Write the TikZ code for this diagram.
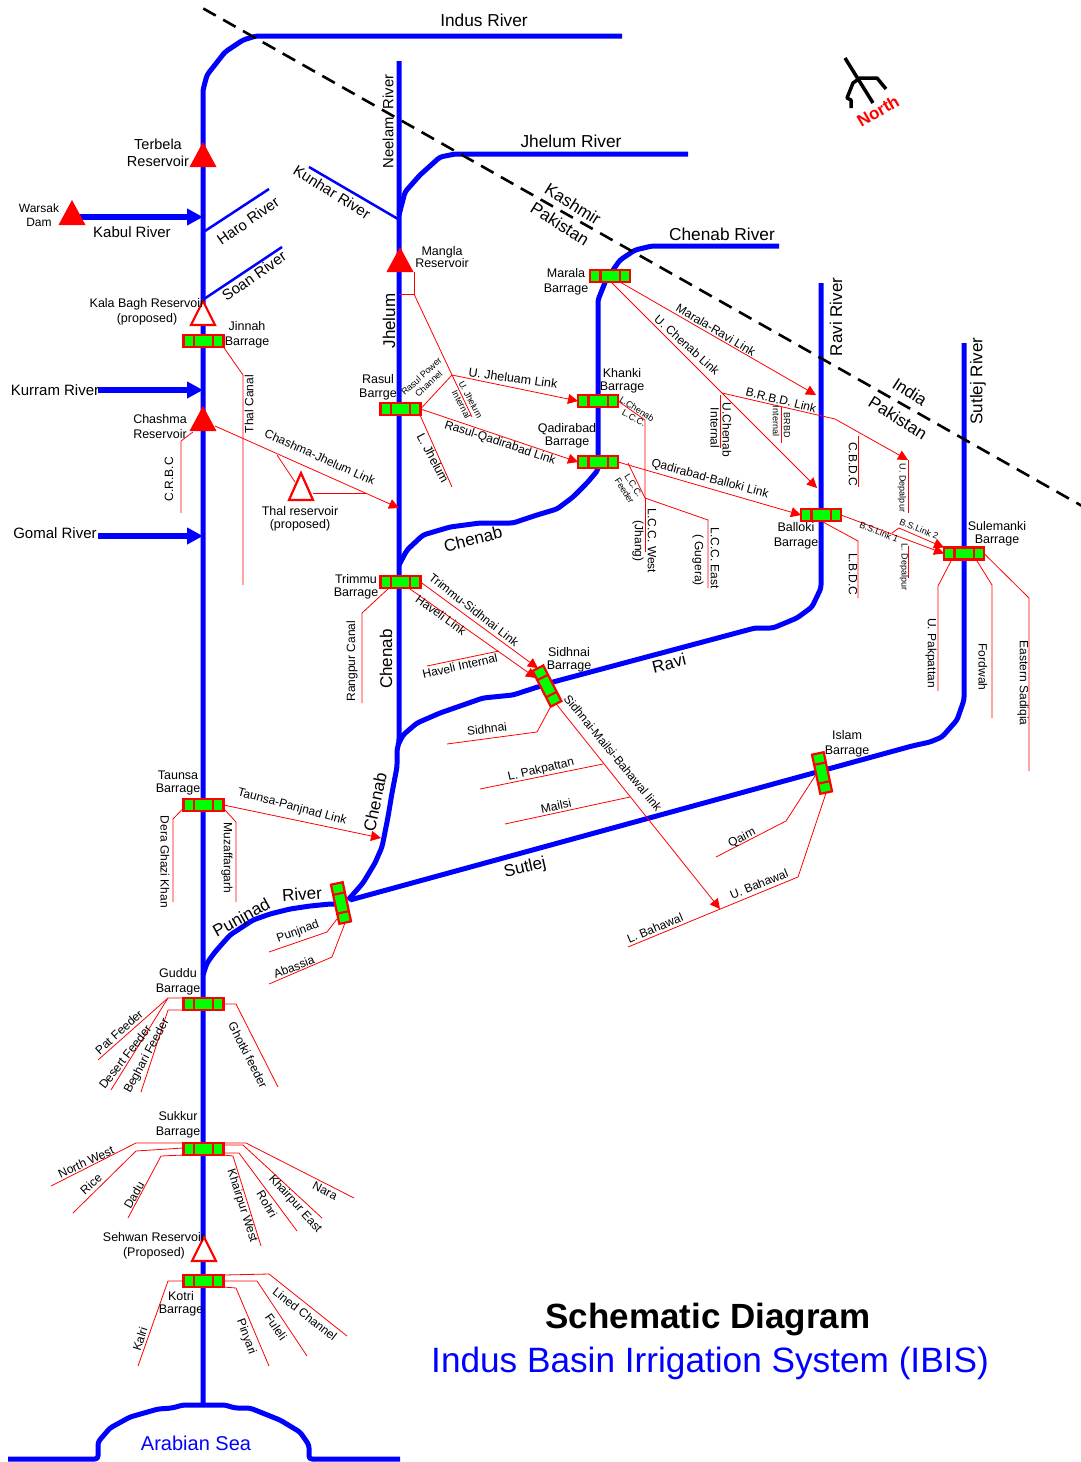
\documentclass[tikz,border=0pt]{standalone}
\usepackage{fontspec}
\setmainfont{Liberation Sans}
\usetikzlibrary{arrows.meta,calc}
\newcounter{lb}
\newcommand\T[5]{\stepcounter{lb}\node[lbl,rotate=#3,font=\fontsize{#4}{#4}\selectfont] (t\arabic{lb}) at (#1,#2) {#5};}
\newcommand\TT[5]{\stepcounter{lb}\node[lbl,yshift=-1pt,font=\fontsize{#3}{#4}\selectfont] (t\arabic{lb}) at (#1,#2) {#5};}
\newcommand\TR[6]{\stepcounter{lb}\node[lbl,rotate=#3,font=\fontsize{#4}{#5}\selectfont] (t\arabic{lb}) at (#1,#2) {#6};}
\newcommand\barrage[4]{%
  \node[barragebox,rotate=#4] (#1) at (#2,#3) {};
  \draw[barragediv] ($(#1.north west)!0.26!(#1.north east)$) -- ($(#1.south west)!0.26!(#1.south east)$);
  \draw[barragediv] ($(#1.north west)!0.74!(#1.north east)$) -- ($(#1.south west)!0.74!(#1.south east)$);}
\newcommand\resv[3]{\coordinate (#1) at (#2,#3);
  \fill[red] ($(#1)+(-13.5,0)$) -- ($(#1)+(0,-25)$) -- ($(#1)+(13.5,0)$) -- cycle;}
\newcommand\propresv[4]{\coordinate (#1) at (#2,#3);
  \draw[red,fill=white,line width=2.2pt] ($(#1)+(-12,0)$) -- ($(#1)+(0,-#4)$) -- ($(#1)+(12,0)$) -- cycle;}
\tikzset{
  lbl/.style={inner sep=0pt,outer sep=0pt,align=center,text=black},
  river/.style={draw=blue,line width=5pt,rounded corners=3pt,line join=round},
  thinriver/.style={draw=blue,line width=2.5pt},
  inflow/.style={draw=blue,line width=6pt,-{Triangle[length=16pt,width=16pt]}},
  link/.style={draw=red,line width=0.8pt},
  linkarrow/.style={link,-{Triangle[length=10pt,width=10pt]}},
  barragebox/.style={rectangle,draw=red,fill=green,line width=2.2pt,minimum width=40pt,minimum height=12pt,inner sep=0pt,outer sep=0pt},
  barragediv/.style={draw=red,line width=2.2pt},
  border/.style={draw=black,line width=2.6pt,dash pattern=on 14.3pt off 8.5pt},
}
\begin{document}
\begin{tikzpicture}[x=1pt,y=-1pt]
\useasboundingbox (0,0) rectangle (1081,1462);
% rivers
\draw[river] (622,36) -- (256,36) -- (243,40) -- (225,52) -- (207,75) -- (203,90) -- (203,1405);
\draw[river] (399,61) -- (399,742) -- (397,750) -- (397,767) -- (392,793) -- (388,817) -- (382,847) -- (375,863) -- (363,883) -- (348,900);
\draw[river] (688,154) -- (455,154) -- (440,157) -- (420,175) -- (405,192) -- (399,215);
\draw[river] (779,246) -- (652,246) -- (635,250) -- (620,260) -- (606,280) -- (598,300) -- (598,470) -- (587,483) -- (573,497) -- (557,509) -- (537,515) -- (513,523) -- (480,523) -- (450,527) -- (423,535) -- (407,550) -- (399,565);
\draw[river] (821,283) -- (821,588) -- (812,607) -- (797,618) -- (773,628) -- (755,628) -- (553,682) -- (513,695) -- (483,698) -- (440,713) -- (417,723) -- (403,735) -- (398,745);
\draw[river] (964,343) -- (964,700) -- (957,720) -- (942,737) -- (930,742) -- (912,746) -- (350,900);
\draw[river] (340,904) -- (330,904) -- (310,906) -- (290,909) -- (270,914) -- (253,920) -- (230,935) -- (215,952) -- (207,963) -- (203,975);
\draw[river] (8,1459) -- (98,1459) -- (98,1442) -- (110,1428) -- (130,1417) -- (158,1409) -- (172,1408) -- (183,1405) -- (225,1405) -- (235,1408) -- (250,1408) -- (280,1420) -- (300,1432) -- (309,1445) -- (309,1459) -- (400,1459);
\draw[thinriver] (309,167) -- (398,219);
\draw[thinriver] (205,231) -- (269,189);
\draw[thinriver] (204,299) -- (282,247);
\coordinate (kabulin) at (203,217);
\coordinate (kurramin) at (203,390);
\coordinate (gomalin) at (203,536);
\coordinate (kabulst) at (78,217);
\coordinate (kurramst) at (98,390);
\coordinate (gomalst) at (98,536);
\draw[inflow] (kabulst) -- (kabulin);
\draw[inflow] (kurramst) -- (kurramin);
\draw[inflow] (gomalst) -- (gomalin);
% border and north mark
\coordinate (bordA) at (203.3,8.5);
\coordinate (bordB) at (1090,510.5);
\begin{scope}
\clip (0,0) rectangle (1081,1462);
\draw[border] (bordA) -- (bordB);
\end{scope}
\draw[black,line width=3.5pt] (845,58) -- (873,103);
\draw[black,line width=3.5pt,line join=round] (851,108) -- (851,100) -- (847,98) -- (853,83) -- (860,78) -- (877,78) -- (886,89);
% barrages and reservoirs
\barrage{jinnah}{203.5}{341}{0}
\barrage{rasul}{400.5}{409}{0}
\barrage{marala}{610}{276}{0}
\barrage{khanki}{598}{401}{0}
\barrage{qadirabad}{598}{462}{0}
\barrage{balloki}{821}{515}{0}
\barrage{sulemanki}{964}{553.5}{0}
\barrage{trimmu}{400.5}{582}{0}
\barrage{sidhnai}{547}{686}{-63}
\barrage{islam}{822}{773}{-78}
\barrage{punjnad}{341}{903}{-78}
\barrage{taunsa}{203.5}{805}{0}
\barrage{guddu}{203.5}{1004}{0}
\barrage{sukkur}{203.5}{1149}{0}
\barrage{kotri}{203.5}{1281}{0}
\resv{terbela}{203}{167}
\resv{warsak}{72}{225}
\resv{chashma}{203}{431}
\resv{mangla}{400}{272}
\propresv{kalabagh}{203}{325}{24}
\propresv{thalres}{301}{500}{27}
\propresv{sehwan}{204}{1261}{24}
% named ends
\coordinate (manga) at (414,294);
\coordinate (jhj) at (452,375);
\coordinate (ucj) at (722,393);
\coordinate (chashout) at (215,426);
\coordinate (chashend) at (399,508);
\coordinate (thalA) at (277,455);
\coordinate (ravitipA) at (816,395);
\coordinate (ravitipB) at (817,488);
\coordinate (ubtip) at (720,909);
\coordinate (depal) at (908,460);
\coordinate (havtip) at (536,678);
\coordinate (bs2a) at (892,533);
\coordinate (bs2b) at (899,528);
\coordinate (tptip) at (381,838);
\coordinate (pj1) at (337,919);
\coordinate (lccj) at (645,498);
\coordinate (lccA) at (645,420);
% links and canals
\draw[link] (jinnah.south east) -- (243,375) -- (243,585);
\draw[link] (193,432) -- (181,441) -- (181,513);
\draw[linkarrow] (chashout) -- (chashend);
\draw[link] (thalA) -- (295,482);
\draw[link] (313,493) -- (367,493);
\draw[link] (414,272) -- (manga) -- (399,294);
\draw[link] (manga) -- (jhj) -- (472,417);
\draw[link] (jhj) -- (rasul.east);
\draw[linkarrow] (jhj) -- (khanki.west);
\draw[linkarrow] (rasul.east) -- (qadirabad.west);
\draw[link] (420,415) -- (452,487);
\draw[linkarrow] (marala.south) ++(10,0) -- (ravitipA);
\draw[linkarrow] (612,283) -- (ucj) -- (ravitipB);
\draw[linkarrow] (ucj) -- (835,419) -- (depal);
\draw[link] (depal) -- (908,513);
\draw[link] (720,395) -- (720,448);
\draw[link] (781,407) -- (781,443);
\draw[link] (858,436) -- (858,487);
\draw[linkarrow] (qadirabad.east) -- (balloki.west);
\draw[link] (khanki.east) -- (lccA) -- (lccj) -- (708,520) -- (708,588);
\draw[link] (lccj) -- (645,552);
\draw[link] (628,463) -- (lccj);
\draw[link] (823,522) -- (858,541) -- (858,598);
\draw[linkarrow] (balloki.east) -- (sulemanki.west);
\draw[link] (bs2a) -- (bs2b);
\draw[linkarrow] (bs2b) -- (sulemanki.north west);
\draw[link] (908,546) -- (908,578);
\draw[link] (951,561) -- (938,586) -- (938,691);
\draw[link] (977,561) -- (992,585) -- (992,718);
\draw[link] (sulemanki.east) -- (1029,598) -- (1029,771);
\draw[linkarrow] (trimmu.east) -- (sidhnai.west);
\draw[linkarrow] (410,589) -- (havtip);
\draw[link] (388,589) -- (362,613) -- (362,703);
\draw[link] (427,666) -- (499,651);
\draw[link] (sidhnai.south east) -- (537,732) -- (447,744);
\draw[linkarrow] (sidhnai.east) -- (ubtip);
\draw[link] (480,789) -- (603,764);
\draw[link] (505,824) -- (630,797);
\draw[link] (islam.south) -- (786,821) -- (716,857);
\draw[link] (islam.east) -- (798,877) -- (628,947);
\draw[linkarrow] (taunsa.east) -- (tptip);
\draw[link] (taunsa.west) ++(0,3) -- (173,819) -- (173,902);
\draw[link] (225,810) -- (236,822) -- (236,902);
\draw[link] (pj1) -- (327,932) -- (269,952);
\draw[link] (punjnad.east) -- (332,957) -- (269,984);
\draw[link] (guddu.north west) -- (168,998) -- (98,1060);
\draw[link] (168,998) -- (111,1090);
\draw[link] (guddu.south west) -- (168,1010) -- (141,1092);
\draw[link] (guddu.east) -- (236,1004) -- (278,1087);
\draw[link] (sukkur.north west) -- (136,1143) -- (51,1186);
\draw[link] (183,1148) -- (136,1151) -- (73,1213);
\draw[link] (sukkur.south west) -- (161,1156) -- (128,1218);
\draw[link] (sukkur.north east) -- (246,1143) -- (354,1198);
\draw[link] (224,1145) -- (243,1145) -- (322,1218);
\draw[link] (224,1153) -- (239,1153) -- (297,1231);
\draw[link] (sukkur.south east) -- (233,1156) -- (261,1246);
\draw[link] (kotri.west) -- (168,1281) -- (138,1366);
\draw[link] (kotri.north east) -- (269,1274) -- (347,1336);
\draw[link] (kotri.east) -- (257,1281) -- (307,1356);
\draw[link] (kotri.south east) -- (236,1288) -- (269,1366);
% labels: rivers and regions
\T{484}{20.5}{0}{17.3}{Indus River}
\T{571}{141}{0}{17.3}{Jhelum River}
\T{722}{234}{0}{17.3}{Chenab River}
\T{836}{317}{90}{17}{Ravi River}
\T{978}{381}{90}{17}{Sutlej River}
\T{388}{121.5}{90}{14.8}{Neelam\hspace{8pt}River}
\T{389}{321}{90}{17}{Jhelum}
\T{332}{192}{-32}{15}{Kunhar River}
\T{248}{221}{35}{15}{Haro River}
\T{254}{276}{35}{15}{Soan River}
\T{132}{232}{0}{15}{Kabul River}
\T{55}{390}{0}{15}{Kurram River}
\T{55}{533}{0}{15}{Gomal River}
\T{473}{539}{14}{17}{Chenab}
\T{386}{659}{90}{17}{Chenab}
\T{375}{802}{78}{17}{Chenab}
\T{669}{663}{14}{17}{Ravi}
\T{525}{868}{13}{17}{Sutlej}
\T{242}{919}{29}{17}{Punjnad}
\T{302}{894}{4}{17}{River}
\T{573}{204}{-32}{17}{Kashmir}
\T{560}{224}{-32}{17}{Pakistan}
\T{910}{392}{-33}{17}{India}
\T{898}{418}{-32}{17}{Pakistan}
\T{196}{1443}{0}{20}{\textcolor{blue}{Arabian Sea}}
\T{708}{1320}{0}{35}{\bfseries Schematic Diagram}
\T{710}{1363}{0}{35.2}{\textcolor{blue}{Indus Basin Irrigation System (IBIS)}}
\T{878}{111}{30}{17}{\bfseries\textcolor{red}{North}}
% labels: dams and barrages
\TT{158}{152}{14.5}{17.5}{Terbela\\Reservoir}
\TT{39}{214}{12}{14}{Warsak\\Dam}
\TT{147}{311}{12.5}{15}{Kala Bagh Reservoir\\(proposed)}
\TT{247}{334}{12.5}{15}{Jinnah\\Barrage}
\TT{160}{426}{12.5}{15}{Chashma\\Reservoir}
\TT{300}{518}{12.5}{13}{Thal reservoir\\(proposed)}
\TT{442}{256}{12.5}{12.5}{Mangla\\Reservoir}
\TT{378}{386}{12.5}{14}{Rasul\\Barrge}
\TT{566}{281}{12.5}{15}{Marala\\Barrage}
\TT{622}{380}{12.5}{13}{Khanki\\Barrage}
\TT{567}{435}{12.5}{13}{Qadirabad\\Barrage}
\TT{796}{535}{12.5}{15}{Balloki\\Barrage}
\TT{997}{533}{12.5}{12.5}{Sulemanki\\Barrage}
\TT{847}{743}{12.5}{15}{Islam\\Barrage}
\TT{356}{586}{12.5}{13}{Trimmu\\Barrage}
\TT{569}{659}{12.5}{13}{Sidhnai\\Barrage}
\TT{178}{782}{12.5}{13}{Taunsa\\Barrage}
\TT{178}{981}{12.5}{15}{Guddu\\Barrage}
\TT{178}{1124}{12.5}{15}{Sukkur\\Barrage}
\TT{154}{1245}{12.5}{15}{Sehwan Reservoir\\(Proposed)}
\TT{181}{1303}{12.5}{13}{Kotri\\Barrage}
% labels: links and canals
\T{169}{479}{90}{12}{C.R.B.C}
\T{249}{404}{90}{12}{Thal Canal}
\T{320}{457}{-24}{12}{Chashma-Jhelum Link}
\TR{425}{380}{43}{9}{10.5}{Rasul Power\\Channel}
\TR{466}{402}{-62}{9}{10.5}{U. Jhelum\\Internal}
\T{513}{378}{-8}{12.5}{U. Jheluam Link}
\T{433}{458}{-62}{12.5}{L. Jhelum}
\T{500}{443}{-18}{12}{Rasul-Qadirabad Link}
\T{637}{409}{-33}{9}{L.Chenab}
\T{634}{418}{-30}{9}{L.C.C.}
\TR{629}{488}{-58}{9}{10.5}{L.C.C.\\Feeder}
\T{652}{541}{-90}{12}{L.C.C. West}
\T{638}{541}{-90}{12}{(Jhang)}
\T{715}{558}{-90}{12}{L.C.C. East}
\T{698}{560}{-90}{12}{( Gugera)}
\T{710}{479}{-15}{12}{Qadirabad-Balloki Link}
\T{716}{330}{-31}{12}{Marala-Ravi Link}
\T{687}{345}{-42}{12}{U. Chenab Link}
\T{727}{430}{-90}{12}{U.Chenab}
\T{715}{428}{-90}{12}{Internal}
\T{781}{400}{-14}{12}{B.R.B.D. Link}
\T{787}{425}{-90}{9}{BRBD}
\T{776}{421}{-90}{9}{Internal}
\T{853}{464}{-90}{12}{C.B.D.C}
\T{902}{488}{-90}{9}{U. Depalpur}
\T{853}{574}{-90}{12}{L.B.D.C}
\T{904}{567}{-90}{9}{L. Depalpur}
\T{879}{532}{-22}{9}{B.S.Link 1}
\T{919}{529}{-22}{9}{B.S.Link 2}
\T{931}{653}{-90}{12}{U. Pakpattan}
\T{983}{667}{-90}{12}{Fordwah}
\T{1023}{683}{-90}{12}{Eastern Sadiqia}
\T{352}{661}{90}{12}{Rangpur Canal}
\T{474}{610}{-38}{12}{Trimmu-Sidhnai Link}
\T{441}{615}{-36}{12}{Haveli Link}
\T{460}{666}{13}{12}{Haveli Internal}
\T{487}{729}{7}{12}{Sidhnai}
\T{613}{753}{-50.5}{12}{Sidhnai-Mailsi-Bahawal link}
\T{541}{770}{13}{12}{L. Pakpattan}
\T{556}{806}{12}{12}{Mailsi}
\T{742}{838}{27}{12}{Qaim}
\T{759}{884}{22}{12}{U. Bahawal}
\T{655}{928}{23}{12}{L. Bahawal}
\T{165}{862}{-90}{12}{Dera Ghazi Khan}
\T{227}{858}{-90}{12}{Muzaffargarh}
\T{292}{807}{-15}{12}{Taunsa-Panjnad Link}
\T{298}{932}{20}{12}{Punjnad}
\T{294}{967}{21}{12}{Abassia}
\T{119}{1032}{42}{12}{Pat Feeder}
\T{125}{1057}{52}{12}{Desert Feeder}
\T{147}{1056}{62}{12}{Beghari Feeder}
\T{248}{1055}{-63}{12}{Ghotki feeder}
\T{86}{1162}{25}{12}{North West}
\T{91}{1184}{42}{12}{Rice}
\T{134}{1195}{60}{12}{Dadu}
\T{242}{1206}{-72}{12}{Khairpur West}
\T{267}{1204}{-60}{12}{Rohri}
\T{295}{1204}{-48}{12}{Khairpur East}
\T{325}{1191}{-27}{12}{Nara}
\T{140}{1339}{72}{12}{Kalri}
\T{246}{1337}{-70}{12}{Pinyari}
\T{276}{1327}{-55}{12}{Fuleli}
\T{305}{1314}{-38}{12}{Lined Channel}
\end{tikzpicture}
\end{document}
